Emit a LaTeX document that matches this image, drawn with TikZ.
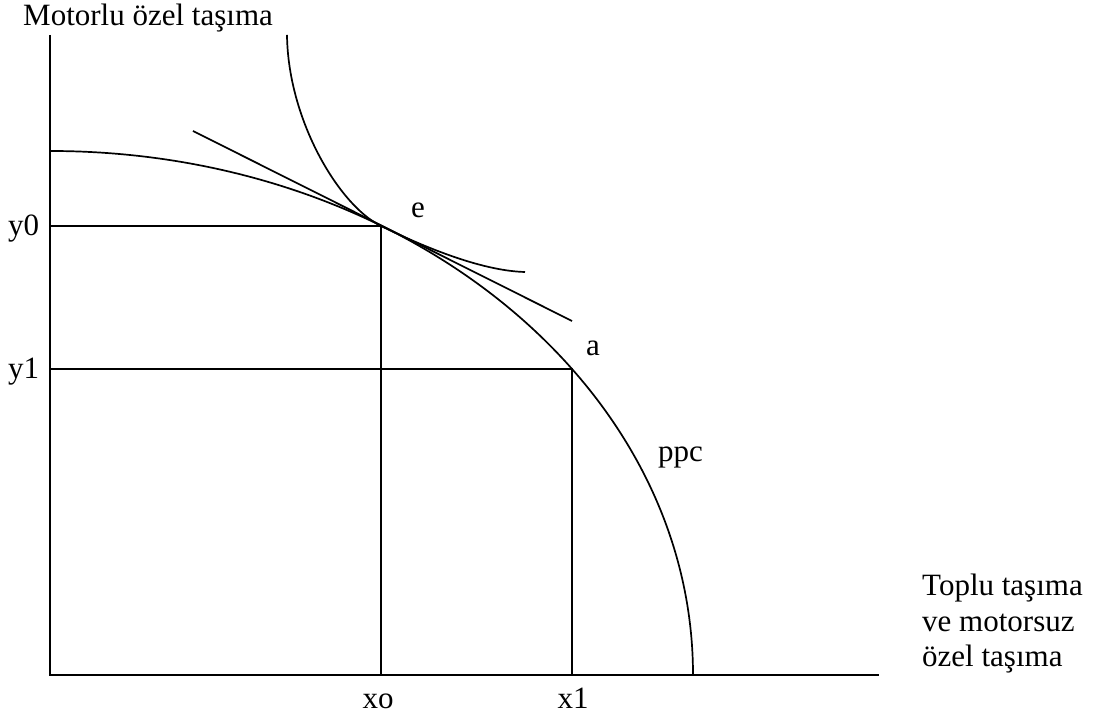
\documentclass[tikz,border=0pt]{standalone}
\usepackage{fontspec}
\setmainfont{Liberation Serif}
\usetikzlibrary{positioning}
\tikzset{
  ax/.style={line width=1.7pt},
  crv/.style={line width=1.7pt},
  lbl/.style={inner sep=0pt, anchor=base west, font=\fontsize{31}{35.5}\selectfont},
  tick/.style={lbl, anchor=base},
}

\begin{document}
\begin{tikzpicture}[x=1pt,y=1pt]
\useasboundingbox (0,0) rectangle (1102,719);
% axes
\coordinate (o) at (50,44);
\coordinate (ytop) at (50,684);
\coordinate (xend) at (879,44);
\draw[ax] (ytop) -- (o) -- (xend);
% points on the ppc
\coordinate (e) at (381,493);
\coordinate (a) at (572,350);
\draw[crv] (50,568) arc[start angle=90, end angle=0, x radius=643, y radius=524];
% guide lines
\draw[crv] (o |- e) -- (e) -- (e |- o);
\draw[crv] (o |- a) -- (a) -- (a |- o);
% tangent and indifference curve
\coordinate (tl) at (193,588);
\coordinate (tr) at (572,398);
\draw[crv] (tl) -- (tr);
\coordinate (ictop) at (287,684);
\coordinate (icend) at (525,447);
\draw[crv] (ictop) .. controls (288,599) and (339,513.6) .. (e)
  .. controls (431,468.5) and (485,448) .. (icend);
% labels
\node[lbl] (ylab) at (23,693) {Motorlu özel taşıma};
\node[lbl] (y0) at (8,483) {y0};
\node[lbl] (y1) at (8,340) {y1};
\node[lbl] (elab) at (411,501) {e};
\node[lbl] (alab) at (586,363) {a};
\node[lbl] (ppc) at (658,257) {ppc};
\node[tick] (x0) at (378,10) {xo};
\node[tick] (x1) at (573,10) {x1};
\node[lbl] (xlab1) at (922,123) {Toplu taşıma};
\node[lbl] (xlab2) at (922,87.5) {ve motorsuz};
\node[lbl] (xlab3) at (922,52) {özel taşıma};
\end{tikzpicture}
\end{document}
